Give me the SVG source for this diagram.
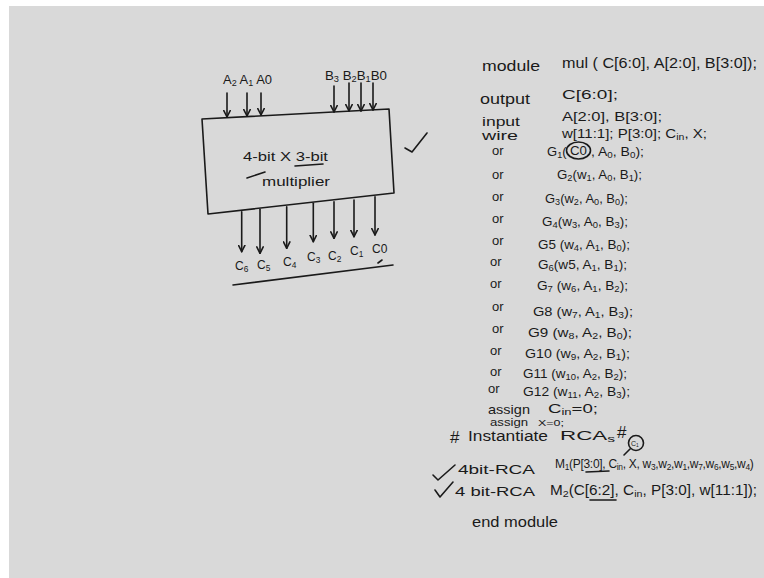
<svg xmlns="http://www.w3.org/2000/svg" width="764" height="578" viewBox="0 0 764 578">
<style>
text{fill:#1a1a1a;font-family:"Liberation Sans","DejaVu Sans",sans-serif;font-size:13px}
.k{font-size:14px}
.sm{font-size:10px}
.xs{font-size:9px}
.lb{font-size:12px}
.lg{font-size:17px}
.sub{font-size:70%;baseline-shift:-0.25em}
.ln{stroke:#1a1a1a;stroke-width:1.6;fill:none;stroke-linecap:round;stroke-linejoin:round}
</style>
<defs>
<marker id="ah" viewBox="0 0 10 10" refX="9" refY="5" markerUnits="userSpaceOnUse" markerWidth="8" markerHeight="8" orient="auto">
<polyline points="1,1 9,5 1,9" fill="none" stroke="#1a1a1a" stroke-width="2" stroke-linecap="round" stroke-linejoin="round"/>
</marker>
</defs>
<rect x="0" y="0" width="764" height="578" fill="#ffffff"/>
<rect x="9" y="6" width="755" height="572" fill="#d9d9d9"/>

<g id="multiplier">
<polygon class="ln" points="202,119 389,109 394,193 208,214"/>
<text x="243" y="161" textLength="85" lengthAdjust="spacingAndGlyphs">4-bit X 3-bit</text>
<text x="262" y="186" textLength="68" lengthAdjust="spacingAndGlyphs">multiplier</text>
<path class="ln" d="M247,178 L265,172 M295,166 L323,164"/>
</g>

<g id="input-labels">
<text x="223" y="84" class="lb" textLength="49" lengthAdjust="spacingAndGlyphs">A<tspan class="sub">2</tspan> A<tspan class="sub">1</tspan> A0</text>
<text x="325" y="80" class="lb" textLength="62" lengthAdjust="spacingAndGlyphs">B<tspan class="sub">3</tspan> B<tspan class="sub">2</tspan>B<tspan class="sub">1</tspan>B0</text>
</g>

<g id="output-labels">
<text x="235" y="270" class="lb">C<tspan class="sub">6</tspan></text>
<text x="257" y="269" class="lb">C<tspan class="sub">5</tspan></text>
<text x="283" y="266" class="lb">C<tspan class="sub">4</tspan></text>
<text x="307" y="261" class="lb">C<tspan class="sub">3</tspan></text>
<text x="328" y="260" class="lb">C<tspan class="sub">2</tspan></text>
<text x="350" y="255" class="lb">C<tspan class="sub">1</tspan></text>
<text x="372" y="253" class="lb">C0</text>
<path class="ln" d="M233,285 L393,265 M378,263 L382,260"/>
</g>

<g id="connectors">
<line class="ln" x1="227" y1="93" x2="227" y2="117" marker-end="url(#ah)"/>
<line class="ln" x1="247" y1="93" x2="247" y2="116" marker-end="url(#ah)"/>
<line class="ln" x1="261" y1="93" x2="261" y2="115" marker-end="url(#ah)"/>
<line class="ln" x1="334" y1="86" x2="334" y2="112" marker-end="url(#ah)"/>
<line class="ln" x1="349" y1="83" x2="349" y2="111" marker-end="url(#ah)"/>
<line class="ln" x1="361" y1="83" x2="361" y2="111" marker-end="url(#ah)"/>
<line class="ln" x1="373" y1="83" x2="373" y2="110" marker-end="url(#ah)"/>
<line class="ln" x1="241.7" y1="211.7" x2="241.7" y2="251.7" marker-end="url(#ah)"/>
<line class="ln" x1="260" y1="209.3" x2="260" y2="253.3" marker-end="url(#ah)"/>
<line class="ln" x1="286.7" y1="206.7" x2="286.7" y2="248.3" marker-end="url(#ah)"/>
<line class="ln" x1="313.3" y1="203.3" x2="313.3" y2="241.7" marker-end="url(#ah)"/>
<line class="ln" x1="334" y1="201.7" x2="334" y2="238.3" marker-end="url(#ah)"/>
<line class="ln" x1="354" y1="200" x2="354" y2="236.7" marker-end="url(#ah)"/>
<line class="ln" x1="375" y1="196.7" x2="375" y2="235" marker-end="url(#ah)"/>
</g>

<polyline class="ln" points="405,148 412,152 427,133"/>

<g id="code">
<text x="482" y="71" class="k" textLength="58" lengthAdjust="spacingAndGlyphs">module</text>
<text x="562" y="68" class="k" textLength="195" lengthAdjust="spacingAndGlyphs">mul ( C[6:0], A[2:0], B[3:0]);</text>
<text x="480" y="104" class="k" textLength="50" lengthAdjust="spacingAndGlyphs">output</text>
<text x="562" y="99" textLength="56" lengthAdjust="spacingAndGlyphs">C[6:0];</text>
<text x="482" y="126" textLength="38" lengthAdjust="spacingAndGlyphs">input</text>
<text x="562" y="121" textLength="100" lengthAdjust="spacingAndGlyphs">A[2:0], B[3:0];</text>
<text x="482" y="140" textLength="36" lengthAdjust="spacingAndGlyphs">wire</text>
<text x="562" y="138" textLength="145" lengthAdjust="spacingAndGlyphs">w[11:1]; P[3:0]; C<tspan class="sub">in</tspan>, X;</text>

<text x="492" y="155">or</text>
<text x="547" y="156">G<tspan class="sub">1</tspan>(</text>
<text x="570" y="155" textLength="17" lengthAdjust="spacingAndGlyphs">C0</text>
<ellipse class="ln" cx="578.5" cy="150.5" rx="12" ry="8.5"/>
<text x="591" y="156" textLength="53" lengthAdjust="spacingAndGlyphs">, A<tspan class="sub">0</tspan>, B<tspan class="sub">0</tspan>);</text>
<text x="492" y="179">or</text>
<text x="557" y="179" textLength="85" lengthAdjust="spacingAndGlyphs">G<tspan class="sub">2</tspan>(w<tspan class="sub">1</tspan>, A<tspan class="sub">0</tspan>, B<tspan class="sub">1</tspan>);</text>
<text x="492" y="201">or</text>
<text x="545" y="203" textLength="83" lengthAdjust="spacingAndGlyphs">G<tspan class="sub">3</tspan>(w<tspan class="sub">2</tspan>, A<tspan class="sub">0</tspan>, B<tspan class="sub">0</tspan>);</text>
<text x="492" y="223">or</text>
<text x="542" y="226" textLength="86" lengthAdjust="spacingAndGlyphs">G<tspan class="sub">4</tspan>(w<tspan class="sub">3</tspan>, A<tspan class="sub">0</tspan>, B<tspan class="sub">3</tspan>);</text>
<text x="492" y="245">or</text>
<text x="538" y="249" textLength="92" lengthAdjust="spacingAndGlyphs">G5 (w<tspan class="sub">4</tspan>, A<tspan class="sub">1</tspan>, B<tspan class="sub">0</tspan>);</text>
<text x="490" y="266">or</text>
<text x="538" y="269" textLength="89" lengthAdjust="spacingAndGlyphs">G<tspan class="sub">6</tspan>(w5, A<tspan class="sub">1</tspan>, B<tspan class="sub">1</tspan>);</text>
<text x="490" y="288">or</text>
<text x="537" y="290" textLength="91" lengthAdjust="spacingAndGlyphs">G<tspan class="sub">7</tspan> (w<tspan class="sub">6</tspan>, A<tspan class="sub">1</tspan>, B<tspan class="sub">2</tspan>);</text>
<text x="492" y="311">or</text>
<text x="533" y="316" textLength="100" lengthAdjust="spacingAndGlyphs">G8  (w<tspan class="sub">7</tspan>, A<tspan class="sub">1</tspan>, B<tspan class="sub">3</tspan>);</text>
<text x="492" y="333">or</text>
<text x="528" y="337" textLength="104" lengthAdjust="spacingAndGlyphs">G9 (w<tspan class="sub">8</tspan>, A<tspan class="sub">2</tspan>, B<tspan class="sub">0</tspan>);</text>
<text x="490" y="355">or</text>
<text x="525" y="358" textLength="105" lengthAdjust="spacingAndGlyphs">G10 (w<tspan class="sub">9</tspan>, A<tspan class="sub">2</tspan>, B<tspan class="sub">1</tspan>);</text>
<text x="490" y="376">or</text>
<text x="523" y="378" textLength="104" lengthAdjust="spacingAndGlyphs">G11 (w<tspan class="sub">10</tspan>, A<tspan class="sub">2</tspan>, B<tspan class="sub">2</tspan>);</text>
<text x="488" y="393">or</text>
<text x="523" y="396" textLength="107" lengthAdjust="spacingAndGlyphs">G12 (w<tspan class="sub">11</tspan>, A<tspan class="sub">2</tspan>, B<tspan class="sub">3</tspan>);</text>

<text x="488" y="414" textLength="42" lengthAdjust="spacingAndGlyphs">assign</text>
<text x="548" y="413" textLength="50" lengthAdjust="spacingAndGlyphs">C<tspan class="sub">in</tspan>=0;</text>
<text x="490" y="426" class="sm" textLength="38" lengthAdjust="spacingAndGlyphs">assign</text>
<text x="538" y="426" class="xs" textLength="26" lengthAdjust="spacingAndGlyphs">X=0;</text>

<text x="450" y="443" class="lg">#</text>
<text x="468" y="441" class="k" textLength="80" lengthAdjust="spacingAndGlyphs">Instantiate</text>
<text x="560" y="440" textLength="55" lengthAdjust="spacingAndGlyphs">RCA<tspan class="sub">s</tspan></text>
<text x="617" y="438" class="lg">#</text>
<circle class="ln" cx="636" cy="443" r="7.5" stroke-width="1.2"/>
<text x="631" y="446" style="font-size:7px">C<tspan class="sub">1</tspan></text>
<path class="ln" d="M630,449 L624,455"/>

<polyline class="ln" points="433,475 438,480 455,465"/>
<text x="458" y="474" textLength="77" lengthAdjust="spacingAndGlyphs">4bit-RCA</text>
<text x="555" y="468" style="font-size:12px;letter-spacing:-0.3px">M<tspan class="sub">1</tspan>(P[3:0], C<tspan class="sub">in</tspan>, X, w<tspan class="sub">3</tspan>,w<tspan class="sub">2</tspan>,w<tspan class="sub">1</tspan>,w<tspan class="sub">7</tspan>,w<tspan class="sub">6</tspan>,w<tspan class="sub">5</tspan>,w<tspan class="sub">4</tspan>)</text>
<path class="ln" d="M586,472 L609,471"/>

<polyline class="ln" points="435,490 440,497 453,482"/>
<text x="455" y="496" textLength="80" lengthAdjust="spacingAndGlyphs">4 bit-RCA</text>
<text x="550" y="495" class="k" textLength="207" lengthAdjust="spacingAndGlyphs">M<tspan class="sub">2</tspan>(C[6:2], C<tspan class="sub">in</tspan>, P[3:0], w[11:1]);</text>
<path class="ln" d="M590,500 L616,500"/>

<text x="472" y="527" class="k" textLength="86" lengthAdjust="spacingAndGlyphs">end module</text>
</g>
</svg>
